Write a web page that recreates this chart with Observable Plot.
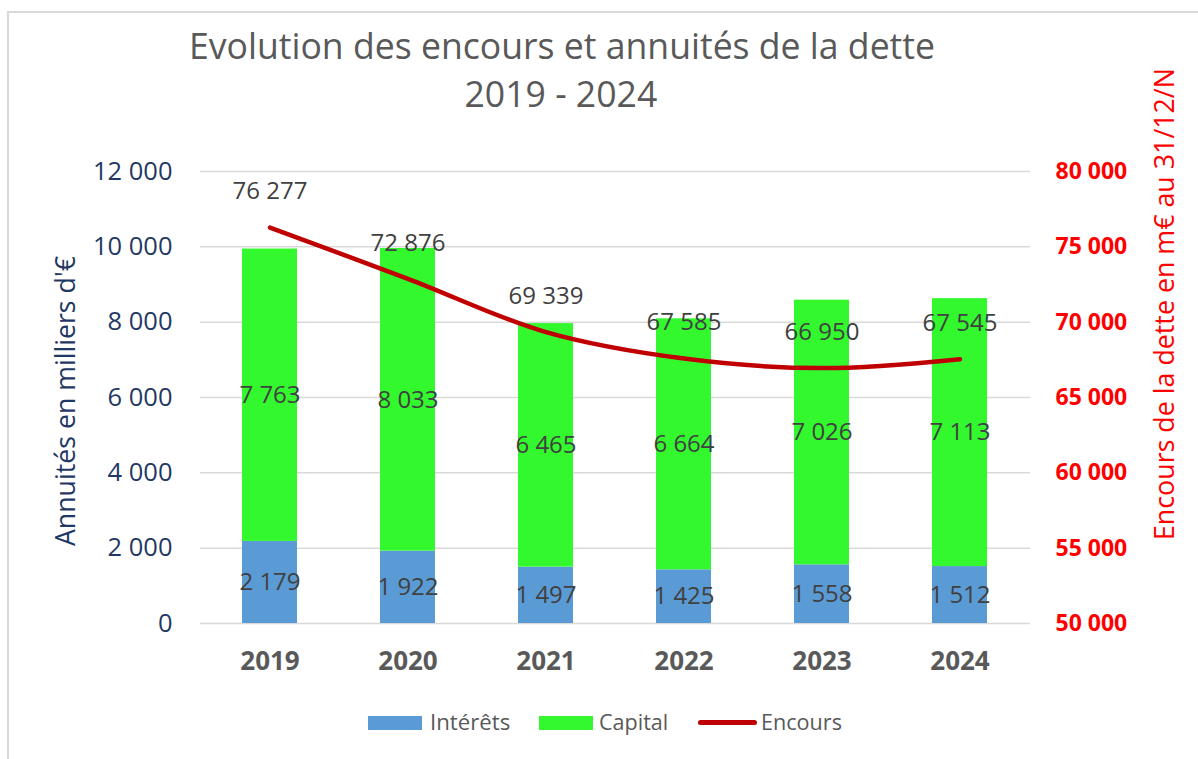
<!DOCTYPE html>
<html>
<head>
<meta charset="utf-8">
<script src="https://cdn.jsdelivr.net/npm/d3@7"></script>
<script src="https://cdn.jsdelivr.net/npm/@observablehq/plot@0.6"></script>
<style>
  body { margin: 0; background: #fff; }
  #wrap { position: relative; width: 1198px; height: 759px; font-family: "Open Sans", sans-serif; overflow: hidden; }
  #wrap svg { position: absolute; left: 0; top: 0; }
  .txt { position: absolute; white-space: nowrap; line-height: 1.2; }
  .sw { position: absolute; }
  .border { position: absolute; left: 7px; top: 11px; width: 1300px; height: 800px; border-left: 2px solid #d9d9d9; border-top: 2px solid #d9d9d9; }
</style>
</head>
<body>
<div id="wrap">
  <div class="border"></div>
</div>
<script>
const years = ["2019", "2020", "2021", "2022", "2023", "2024"];
const interets = [2179, 1922, 1497, 1425, 1558, 1512];
const capital = [7763, 8033, 6465, 6664, 7026, 7113];
const encours = [76277, 72876, 69339, 67585, 66950, 67545];
const leftTicks = [0, 2000, 4000, 6000, 8000, 10000, 12000];
const rightTicks = [50000, 55000, 60000, 65000, 70000, 75000, 80000];
const seriesNames = ["Intérêts", "Capital", "Encours"];
const colors = ["#5b9bd5", "#33f82e", "#c00000"];
const titleLines = ["Evolution des encours et annuités de la dette", "2019 - 2024"];
const leftTitle = "Annuités en milliers d'€";
const rightTitle = "Encours de la dette en m€ au 31/12/N";

const fr = d3.formatLocale({decimal: ",", thousands: " ", grouping: [3], currency: ["", " €"]});
const fmt = fr.format(",d");

const bars = [];
years.forEach((y, i) => {
  bars.push({year: y, series: seriesNames[0], value: interets[i]});
  bars.push({year: y, series: seriesNames[1], value: capital[i]});
});
const lineData = years.map((y, i) => ({year: y, value: encours[i]}));

const W = 1198, H = 759;
const common = {
  width: W, height: H,
  marginLeft: 200, marginRight: 168, marginTop: 171, marginBottom: 136,
  style: {fontFamily: "Open Sans, sans-serif", background: "transparent", overflow: "visible"}
};
const xScale = {type: "band", domain: years, paddingInner: 0.6, paddingOuter: 0.3, label: null};

const p1 = Plot.plot({
  ...common,
  x: xScale,
  y: {domain: [0, 12000], label: null},
  color: {domain: seriesNames.slice(0, 2), range: colors.slice(0, 2)},
  marks: [
    Plot.gridY(leftTicks, {stroke: "#d9d9d9", strokeOpacity: 1, strokeWidth: 1.5}),
    Plot.barY(bars, Plot.stackY({x: "year", y: "value", fill: "series", order: null})),
    Plot.text(bars, Plot.stackY({x: "year", y: "value", order: null, text: d => fmt(d.value), fill: "#404040", fontSize: 24})),
    Plot.axisY(leftTicks, {anchor: "left", tickSize: 0, tickPadding: 28, tickFormat: fmt, fill: "#1f3864", fontSize: 25.5, label: null}),
    Plot.axisX({tickSize: 0, tickPadding: 28, fill: "#595959", fontSize: 26, fontWeight: "bold", label: null})
  ]
});

const p2 = Plot.plot({
  ...common,
  x: {...xScale, axis: null},
  y: {domain: [50000, 80000], label: null, axis: null},
  marks: [
    Plot.line(lineData, {x: "year", y: "value", stroke: colors[2], strokeWidth: 4.5, curve: "catmull-rom"}),
    Plot.text(lineData, {x: "year", y: "value", text: d => fmt(d.value), dy: -36, fill: "#404040", fontSize: 24}),
    Plot.axisY(rightTicks, {anchor: "right", tickSize: 0, tickPadding: 25, tickFormat: fmt, fill: "#ff0000", fontSize: 23, fontWeight: "bold", label: null})
  ]
});

const wrap = document.getElementById("wrap");
wrap.appendChild(p1);
wrap.appendChild(p2);

// text placed so that its measured length matches a target length
function fitText(text, {cx, cy, len, color, rotate = false, left = null}) {
  const d = document.createElement("div");
  d.className = "txt";
  d.textContent = text;
  d.style.color = color;
  d.style.fontSize = "20px";
  wrap.appendChild(d);
  const s = 20 * len / d.offsetWidth;
  d.style.fontSize = s + "px";
  const w = d.offsetWidth, h = d.offsetHeight;
  d.style.left = (left !== null ? left : cx - w / 2) + "px";
  d.style.top = (cy - h / 2) + "px";
  if (rotate) d.style.transform = "rotate(-90deg)";
  return d;
}
const t1 = fitText(titleLines[0], {cx: 562, cy: 45, len: 746, color: "#595959"});
const t2 = document.createElement("div");
t2.className = "txt";
t2.textContent = titleLines[1];
t2.style.color = "#595959";
t2.style.fontSize = t1.style.fontSize;
wrap.appendChild(t2);
t2.style.left = (561 - t2.offsetWidth / 2) + "px";
t2.style.top = (93 - t2.offsetHeight / 2) + "px";

fitText(leftTitle, {cx: 65, cy: 401, len: 290, color: "#1f3864", rotate: true});
fitText(rightTitle, {cx: 1164, cy: 304, len: 472, color: "#ff0000", rotate: true});

// legend
function swatch(x, y, w, h, color, radius) {
  const d = document.createElement("div");
  d.className = "sw";
  Object.assign(d.style, {left: x + "px", top: y + "px", width: w + "px", height: h + "px", background: color, borderRadius: radius + "px"});
  wrap.appendChild(d);
}
swatch(368, 716, 54, 14, colors[0], 0);
swatch(539, 716, 54, 14, colors[1], 0);
swatch(698, 720, 59, 5, colors[2], 3);
fitText(seriesNames[0], {cy: 722, len: 80, color: "#595959", left: 430});
fitText(seriesNames[1], {cy: 722, len: 69, color: "#595959", left: 599});
fitText(seriesNames[2], {cy: 722, len: 81, color: "#595959", left: 761});
</script>
</body>
</html>
